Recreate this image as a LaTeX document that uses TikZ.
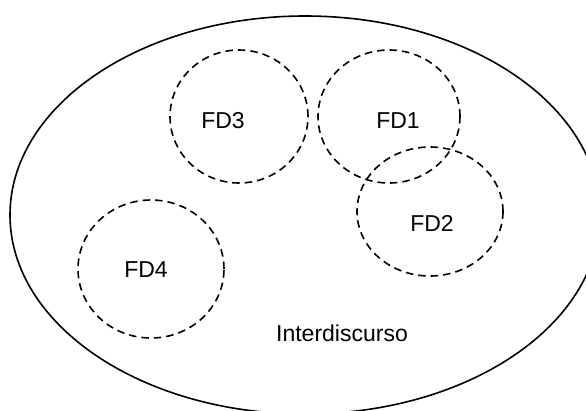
\documentclass[tikz,border=0pt]{standalone}
\usepackage{fontspec}
\setmainfont{Liberation Sans}
\usetikzlibrary{shapes.geometric}

\begin{document}
\begin{tikzpicture}[
    x=1pt, y=-1pt,
    fd/.style={draw, ellipse, line width=1.6pt, dash pattern=on 7.5pt off 5pt,
               inner sep=0pt},
    lbl/.style={font=\fontsize{23}{27}\selectfont, inner sep=0pt},
]
\useasboundingbox (0,0) rectangle (586,410);
\clip (0,0) rectangle (586,410);

% Outer set
\node[draw, ellipse, line width=1.6pt, inner sep=0pt,
      minimum width=590pt, minimum height=398pt] (inter) at (305,215) {};
\node[lbl] (intertxt) at (342,333) {Interdiscurso};

% Discursive formations
\node[fd, minimum width=138pt, minimum height=133pt] (fd3) at (239,116.5) {};
\node[lbl] (fd3txt) at (223,121) {FD3};

\node[fd, minimum width=142pt, minimum height=133pt] (fd1) at (389,116.5) {};
\node[lbl] (fd1txt) at (398,121) {FD1};

\node[fd, minimum width=146pt, minimum height=129pt] (fd2) at (430,211.5) {};
\node[lbl] (fd2txt) at (432,223) {FD2};

\node[fd, minimum width=146pt, minimum height=138pt] (fd4) at (151,269) {};
\node[lbl] (fd4txt) at (146,270) {FD4};
\end{tikzpicture}
\end{document}
